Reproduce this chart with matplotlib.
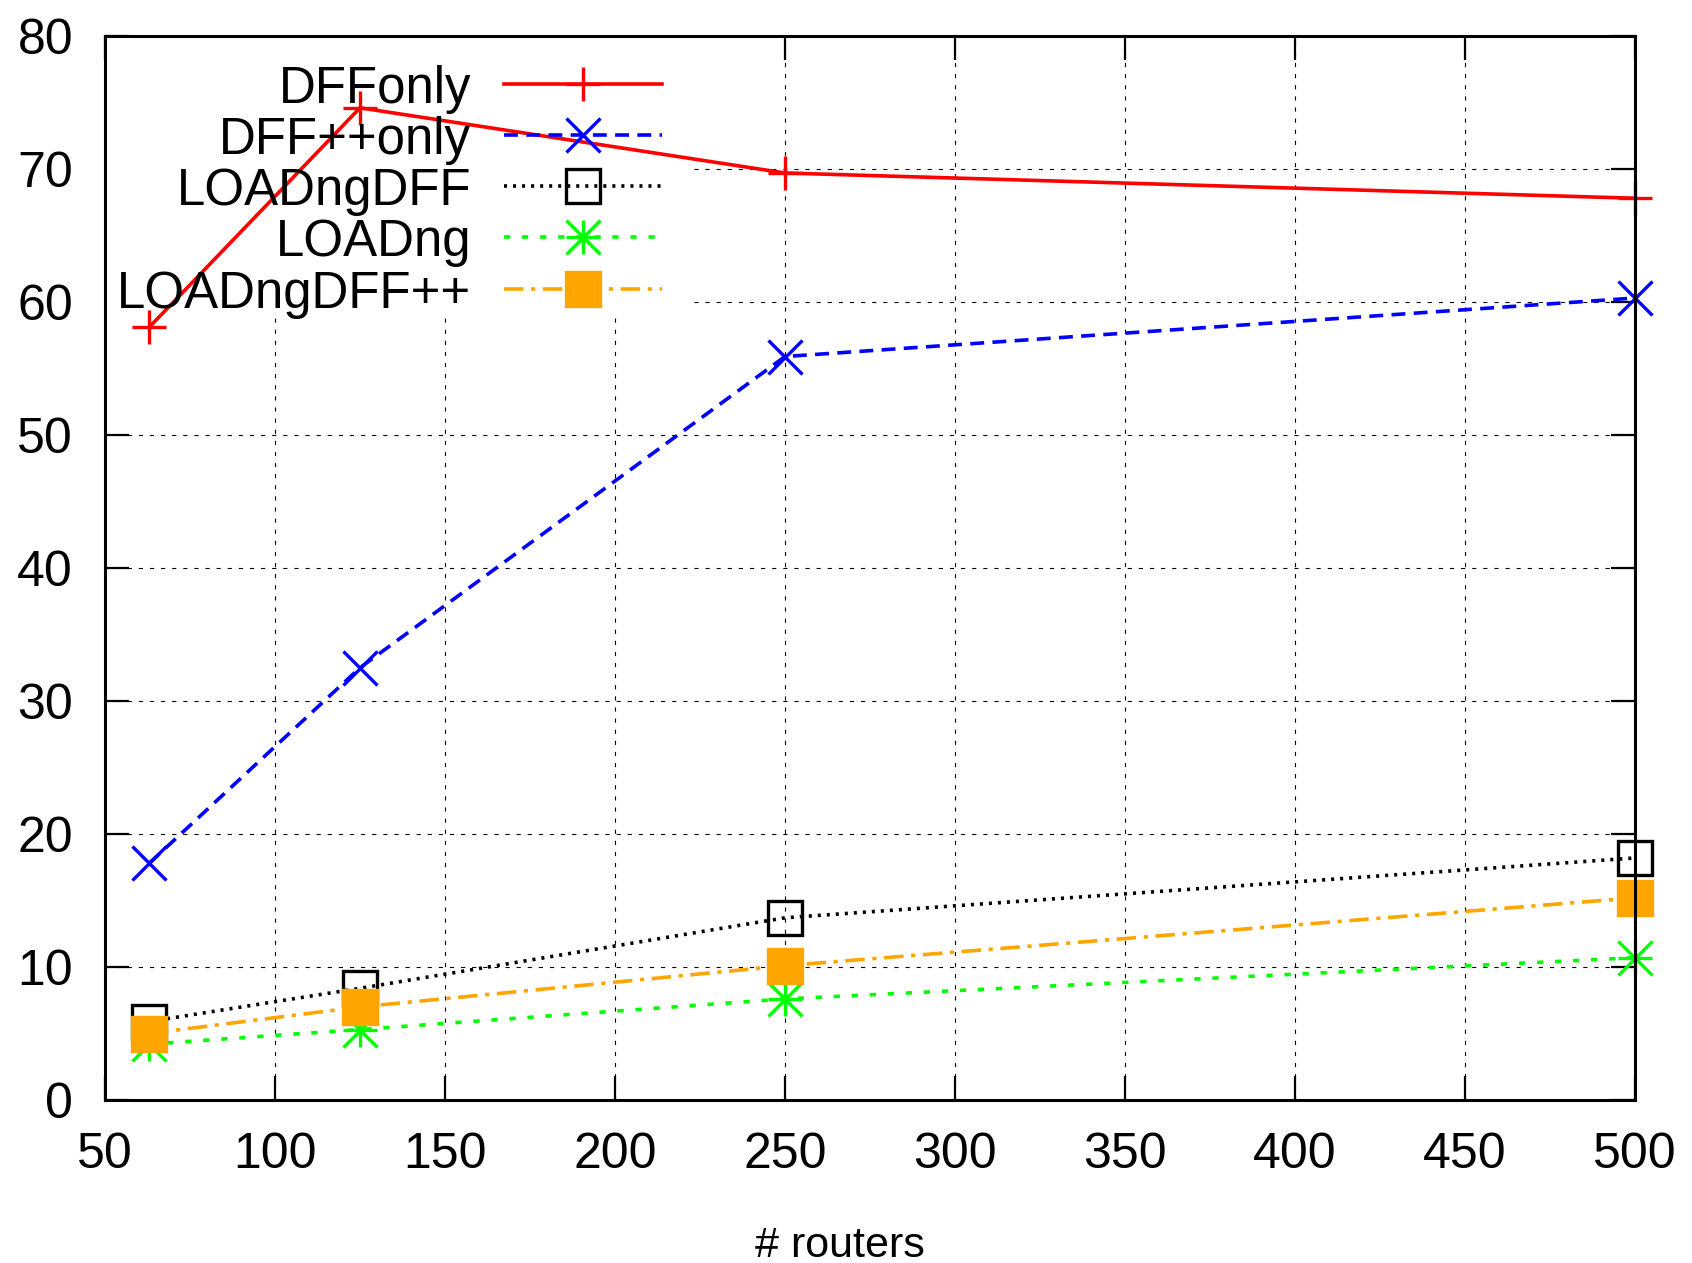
import matplotlib
matplotlib.use('Agg')
import matplotlib.pyplot as plt
from matplotlib.patches import Rectangle

plt.rcParams['font.family'] = ['Liberation Sans', 'DejaVu Sans']
plt.rcParams['lines.scale_dashes'] = False

# ---- data ----
routers = [63, 125, 250, 500]
dff_only = [58.1, 74.6, 69.7, 67.8]
dffpp_only = [17.8, 32.5, 55.9, 60.3]
loadng_dff = [5.9, 8.4, 13.7, 18.2]
loadng = [4.2, 5.3, 7.6, 10.7]
loadng_dffpp = [5.0, 7.0, 10.1, 15.2]
series_labels = ['DFFonly', 'DFF++only', 'LOADngDFF', 'LOADng', 'LOADngDFF++']
x_ticks = [50, 100, 150, 200, 250, 300, 350, 400, 450, 500]
y_ticks = [0, 10, 20, 30, 40, 50, 60, 70, 80]
x_label = '# routers'

W, H = 1692, 1263
fig = plt.figure(figsize=(W / 100, H / 100), dpi=100)
ax = fig.add_axes([105 / W, 1 - 1100 / H, 1530 / W, 1064 / H])

ax.set_xlim(50, 500)
ax.set_ylim(0, 80)
ax.set_xticks(x_ticks)
ax.set_yticks(y_ticks)
ax.tick_params(axis='both', which='major', direction='in', length=17, width=1.6,
               top=True, right=True, labelsize=36, pad=23, colors='black')
for s in ax.spines.values():
    s.set_linewidth(2.2)
    s.set_zorder(6)

ax.set_axisbelow(True)
ax.grid(True, color='black', linewidth=0.8, linestyle=(0, (3, 5)))

# opaque key background
ax.add_patch(Rectangle((0, 0.736), 0.384, 0.264, transform=ax.transAxes,
                       facecolor='white', edgecolor='none', zorder=1))

lw = 2.6
ms = 25
mew = 2.4
styles = [
    dict(color='#ff0000', linestyle='-', marker='+'),
    dict(color='#0000ff', linestyle=(0, (10, 6)), marker='x'),
    dict(color='black', linestyle=(0, (2.2, 4.3)), marker='s', markerfacecolor='none'),
    dict(color='#00ff00', linestyle=(0, (4.5, 8.5)), marker='+'),
    dict(color='#ffa500', linestyle=(0, (14, 5.5, 3, 5.5)), marker='s', markerfacecolor='#ffa500'),
]
series = [dff_only, dffpp_only, loadng_dff, loadng, loadng_dffpp]

# legend sample geometry (axes fraction)
txt_x = (471 - 105) / 1530
l0 = (504 - 105) / 1530
l1 = (662 - 105) / 1530
lm = (583 - 105) / 1530
rows_px = [84, 135, 186, 237, 289]

for i, (ys, st, lab) in enumerate(zip(series, styles, series_labels)):
    z = 2 + i
    msz = ms if st['marker'] != 's' else 24
    ax.plot(routers, ys, linewidth=lw, markersize=msz, markeredgewidth=mew,
            zorder=z, clip_on=False, **st)
    ry = (1100 - rows_px[i]) / 1064
    ax.plot([l0, l1], [ry, ry], transform=ax.transAxes, color=st['color'],
            linestyle=st['linestyle'], linewidth=lw, zorder=z, clip_on=False)
    ax.plot([lm], [ry], transform=ax.transAxes, color=st['color'], linestyle='none',
            marker=st['marker'], markersize=msz, markeredgewidth=mew,
            markerfacecolor=st.get('markerfacecolor', st['color']), zorder=z, clip_on=False)
    if lab == 'LOADng':
        ax.plot(routers, ys, linestyle='none', color=st['color'], marker='x',
                markersize=ms, markeredgewidth=mew, zorder=z, clip_on=False)
        ax.plot([lm], [ry], transform=ax.transAxes, linestyle='none', color=st['color'],
                marker='x', markersize=ms, markeredgewidth=mew, zorder=z, clip_on=False)
    ax.text(txt_x, ry, lab, transform=ax.transAxes, ha='right', va='center_baseline',
            fontsize=36.7, zorder=z)

fig.text(840 / W, 1 - 1257 / H, x_label, ha='center', va='baseline', fontsize=31)

fig.savefig('out.png', dpi=100)
